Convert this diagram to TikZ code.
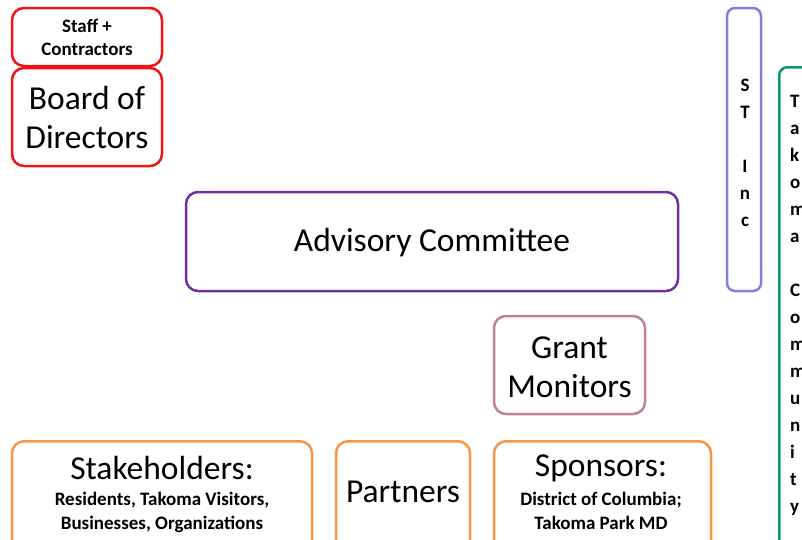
\documentclass[tikz,border=0pt]{standalone}
\usepackage{fontspec}
\setmainfont{Carlito}
\definecolor{cred}{RGB}{240,20,20}
\definecolor{cpurple}{RGB}{112,48,160}
\definecolor{cslate}{RGB}{128,128,224}
\definecolor{cgreen}{RGB}{16,150,110}
\definecolor{cpink}{RGB}{192,128,150}
\definecolor{corange}{RGB}{247,150,70}
\tikzset{
  box/.style={draw, line width=2.5pt, rounded corners=12pt, fill=white, inner sep=0pt, align=center},
  bigtext/.style={font=\fontsize{33.5}{39}\selectfont},
  smalltext/.style={font=\bfseries\fontsize{19}{24}\selectfont},
  vert/.style={font=\bfseries\fontsize{19}{27}\selectfont, inner sep=0pt},
}
\begin{document}
\begin{tikzpicture}[x=1pt,y=-1pt]
\useasboundingbox (0,0) rectangle (802,539);
\begin{scope}
\clip (0,0) rectangle (802,539);
% red boxes
\node[box, draw=cred, minimum width=150pt, minimum height=58pt, font=\bfseries\fontsize{19}{23}\selectfont] (staff) at (87,37) {Staff +\\Contractors};
\node[box, draw=cred, minimum width=150pt, minimum height=98pt, bigtext] (board) at (87,117) {Board of\\Directors};
% advisory
\node[box, draw=cpurple, minimum width=492pt, minimum height=99pt] (adv) at (432,241.5) {};
\node[bigtext, inner sep=0pt] (advtext) at (432,243) {Advisory Committee};
% ST Inc
\node[box, draw=cslate, minimum width=34pt, minimum height=283pt, rounded corners=8pt] (stinc) at (744,149.5) {};
\node[vert, align=center, anchor=north] (sttext) at (745,79) {S\\T\\\mbox{}\\I\\n\\c};
% Takoma community
\node[box, draw=cgreen, minimum width=60pt, minimum height=500pt, rounded corners=8pt, anchor=north west] (tak) at (778,66) {};
\node[vert, align=left, anchor=north west] (taktext) at (790,95) {T\\a\\k\\o\\m\\a\\\mbox{}\\C\\o\\m\\m\\u\\n\\i\\t\\y};
% grant monitors
\node[box, draw=cpink, minimum width=151pt, minimum height=98pt] (grant) at (569.5,365) {};
\node[bigtext, align=center, inner sep=0pt] (granttext) at (569.5,367) {Grant\\Monitors};
% bottom orange boxes
\node[box, draw=corange, minimum width=300pt, minimum height=120pt, anchor=north] (stake) at (162,440) {};
\node[bigtext, anchor=center, inner sep=0pt] (staketitle) at (162,468) {Stakeholders:};
\node[smalltext, align=center, anchor=north, inner sep=0pt] (stakesub) at (162,492) {Residents, Takoma Visitors,\\Businesses, Organizations};
\node[box, draw=corange, minimum width=134pt, minimum height=120pt, anchor=north] (partners) at (403,440) {};
\node[bigtext, inner sep=0pt] (partnerstext) at (403,492) {Partners};
\node[box, draw=corange, minimum width=217pt, minimum height=120pt, anchor=north] (sponsors) at (602.5,440) {};
\node[bigtext, inner sep=0pt] (sponstitle) at (601,468) {Sponsors:};
\node[smalltext, align=center, anchor=north, inner sep=0pt] (sponssub) at (601,492) {District of Columbia;\\Takoma Park MD};
\end{scope}
\end{tikzpicture}
\end{document}
